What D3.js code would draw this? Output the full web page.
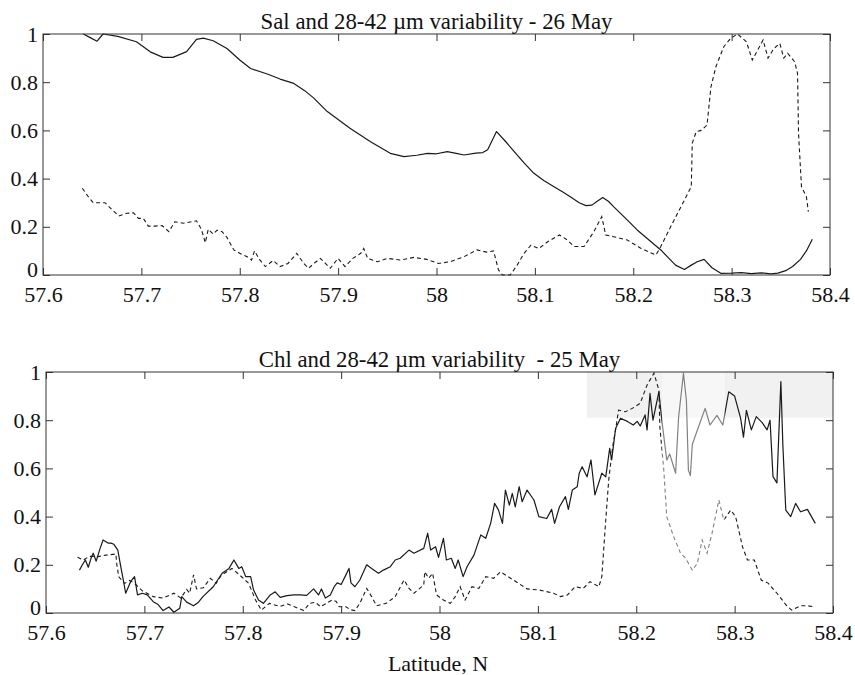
<!DOCTYPE html>
<html>
<head>
<meta charset="utf-8">
<script src="https://cdn.jsdelivr.net/npm/d3@7"></script>
<style>
  html, body { margin: 0; padding: 0; background: #fff; }
  svg { display: block; }
</style>
</head>
<body>
<svg id="chart" width="855" height="675"></svg>
<script>
// ---------------- data ----------------
const xTickValues = [57.6, 57.7, 57.8, 57.9, 58.0, 58.1, 58.2, 58.3, 58.4];
const xTickLabels = ["57.6", "57.7", "57.8", "57.9", "58", "58.1", "58.2", "58.3", "58.4"];
const yTickValues = [0, 0.2, 0.4, 0.6, 0.8, 1];
const yTickLabels = ["0", "0.2", "0.4", "0.6", "0.8", "1"];

const titleTop = "Sal and 28-42 \u00B5m variability - 26 May";
const titleBottom = "Chl and 28-42 \u00B5m variability  - 25 May";
const xAxisTitle = "Latitude, N";

// Top panel: salinity (solid), 28-42 um (dashed), 26 May
const salLat = [57.641,57.648,57.655,57.661,57.676,57.695,57.709,57.722,57.732,57.746,57.756,57.763,57.773,57.787,57.800,57.811,57.828,57.841,57.855,57.866,57.875,57.889,57.912,57.933,57.953,57.967,57.980,57.991,58.000,58.011,58.020,58.028,58.040,58.047,58.052,58.061,58.070,58.079,58.089,58.099,58.109,58.119,58.128,58.136,58.145,58.152,58.158,58.163,58.169,58.175,58.180,58.192,58.204,58.216,58.228,58.236,58.243,58.252,58.259,58.265,58.272,58.280,58.289,58.300,58.310,58.320,58.330,58.340,58.347,58.355,58.362,58.370,58.376,58.382];
const salVal = [1.0,0.985,0.97,1.0,0.99,0.968,0.926,0.903,0.903,0.927,0.978,0.983,0.972,0.94,0.892,0.857,0.834,0.813,0.795,0.765,0.735,0.678,0.609,0.553,0.505,0.491,0.497,0.505,0.503,0.512,0.505,0.498,0.506,0.508,0.52,0.595,0.555,0.512,0.465,0.422,0.392,0.367,0.345,0.325,0.30,0.288,0.29,0.305,0.322,0.305,0.284,0.236,0.187,0.145,0.104,0.07,0.041,0.023,0.041,0.055,0.065,0.03,0.007,0.008,0.01,0.006,0.009,0.005,0.008,0.018,0.035,0.065,0.10,0.148];

const size26Lat = [57.640,57.646,57.651,57.663,57.670,57.677,57.685,57.692,57.697,57.702,57.707,57.714,57.721,57.728,57.734,57.743,57.756,57.761,57.765,57.768,57.773,57.777,57.782,57.787,57.794,57.800,57.807,57.812,57.815,57.820,57.826,57.834,57.841,57.849,57.858,57.865,57.870,57.876,57.882,57.892,57.900,57.907,57.915,57.923,57.926,57.930,57.940,57.950,57.963,57.977,57.990,58.002,58.014,58.028,58.041,58.051,58.058,58.063,58.067,58.075,58.082,58.089,58.096,58.104,58.113,58.125,58.133,58.140,58.150,58.160,58.168,58.172,58.180,58.194,58.208,58.223,58.228,58.238,58.252,58.259,58.260,58.264,58.269,58.275,58.279,58.284,58.292,58.299,58.306,58.315,58.321,58.326,58.332,58.337,58.343,58.349,58.353,58.357,58.364,58.367,58.368,58.371,58.376,58.378];
const size26Val = [0.36,0.325,0.30,0.30,0.272,0.245,0.256,0.258,0.235,0.235,0.203,0.203,0.205,0.18,0.221,0.215,0.225,0.19,0.134,0.19,0.17,0.186,0.18,0.156,0.104,0.09,0.077,0.062,0.10,0.065,0.035,0.06,0.035,0.048,0.09,0.048,0.028,0.05,0.069,0.028,0.069,0.035,0.069,0.09,0.11,0.069,0.055,0.069,0.062,0.073,0.065,0.048,0.055,0.076,0.104,0.095,0.10,0.021,0.0,0.0,0.041,0.09,0.124,0.11,0.138,0.166,0.145,0.118,0.118,0.18,0.242,0.166,0.159,0.145,0.11,0.083,0.118,0.20,0.311,0.367,0.547,0.595,0.60,0.622,0.781,0.864,0.947,0.982,1.0,0.968,0.892,0.93,0.975,0.90,0.94,0.961,0.90,0.92,0.885,0.837,0.588,0.367,0.325,0.263];

// Bottom panel: chlorophyll (solid), 28-42 um (dashed), 25 May
const chlLat = [57.634,57.637,57.640,57.643,57.646,57.648,57.651,57.655,57.658,57.663,57.666,57.669,57.673,57.676,57.678,57.681,57.686,57.690,57.693,57.698,57.703,57.709,57.714,57.719,57.725,57.730,57.736,57.738,57.743,57.750,57.755,57.760,57.770,57.779,57.786,57.791,57.796,57.799,57.803,57.808,57.811,57.816,57.821,57.828,57.833,57.838,57.845,57.852,57.858,57.865,57.872,57.877,57.880,57.884,57.889,57.893,57.896,57.900,57.904,57.908,57.910,57.914,57.919,57.926,57.931,57.938,57.943,57.950,57.955,57.960,57.969,57.974,57.984,57.988,57.991,57.996,57.999,58.004,58.007,58.012,58.016,58.019,58.024,58.028,58.035,58.042,58.047,58.052,58.056,58.060,58.064,58.067,58.071,58.074,58.077,58.081,58.084,58.089,58.096,58.101,58.109,58.114,58.117,58.122,58.128,58.131,58.135,58.140,58.142,58.145,58.150,58.154,58.158,58.165,58.169,58.173,58.175,58.179,58.184,58.191,58.197,58.201,58.204,58.209,58.211,58.214,58.217,58.223,58.226,58.231,58.234,58.240,58.243,58.248,58.251,58.253,58.255,58.257,58.270,58.275,58.282,58.288,58.294,58.300,58.306,58.309,58.312,58.317,58.322,58.328,58.333,58.336,58.339,58.343,58.347,58.349,58.352,58.357,58.362,58.367,58.374,58.382];
const chlVal = [0.178,0.2,0.22,0.19,0.23,0.248,0.215,0.268,0.303,0.29,0.29,0.285,0.261,0.192,0.15,0.082,0.13,0.151,0.075,0.082,0.075,0.047,0.035,0.01,0.025,0.003,0.02,0.068,0.045,0.03,0.045,0.07,0.109,0.165,0.185,0.22,0.185,0.192,0.151,0.151,0.095,0.054,0.04,0.075,0.088,0.065,0.072,0.075,0.075,0.073,0.1,0.075,0.1,0.062,0.075,0.109,0.125,0.118,0.151,0.185,0.125,0.109,0.137,0.20,0.185,0.165,0.178,0.192,0.22,0.227,0.261,0.248,0.268,0.331,0.261,0.275,0.231,0.31,0.22,0.227,0.185,0.22,0.151,0.192,0.24,0.324,0.31,0.372,0.455,0.427,0.372,0.51,0.448,0.496,0.44,0.524,0.462,0.51,0.469,0.40,0.392,0.43,0.372,0.441,0.483,0.43,0.51,0.524,0.58,0.607,0.565,0.635,0.49,0.58,0.565,0.683,0.635,0.766,0.808,0.795,0.78,0.795,0.776,0.822,0.76,0.911,0.80,0.918,0.80,0.635,0.66,0.58,0.81,0.995,0.88,0.593,0.57,0.70,0.849,0.78,0.82,0.78,0.918,0.90,0.81,0.73,0.841,0.76,0.815,0.79,0.76,0.80,0.566,0.54,0.96,0.70,0.427,0.40,0.455,0.42,0.43,0.372];

const size25Lat = [57.632,57.638,57.644,57.653,57.661,57.671,57.672,57.674,57.680,57.685,57.690,57.698,57.709,57.719,57.730,57.737,57.743,57.746,57.750,57.753,57.760,57.767,57.773,57.778,57.789,57.797,57.806,57.813,57.819,57.827,57.838,57.845,57.852,57.862,57.868,57.874,57.879,57.885,57.891,57.895,57.898,57.905,57.909,57.914,57.919,57.926,57.931,57.936,57.946,57.955,57.964,57.969,57.974,57.984,57.985,57.989,57.993,57.997,58.004,58.011,58.016,58.021,58.026,58.033,58.040,58.047,58.055,58.062,58.075,58.089,58.102,58.116,58.123,58.130,58.138,58.146,58.153,58.162,58.165,58.169,58.172,58.176,58.179,58.182,58.189,58.196,58.204,58.211,58.218,58.223,58.224,58.228,58.231,58.238,58.245,58.250,58.257,58.262,58.267,58.272,58.277,58.284,58.289,58.296,58.301,58.308,58.313,58.320,58.327,58.334,58.343,58.353,58.358,58.367,58.374,58.381];
const size25Val = [0.231,0.22,0.235,0.234,0.24,0.245,0.2,0.15,0.123,0.135,0.123,0.092,0.068,0.062,0.082,0.062,0.098,0.082,0.158,0.1,0.105,0.144,0.123,0.156,0.185,0.157,0.123,0.054,0.012,0.04,0.027,0.038,0.027,0.01,0.04,0.045,0.026,0.04,0.054,0.048,0.026,0.026,0.014,0.01,0.04,0.102,0.068,0.03,0.04,0.068,0.137,0.102,0.082,0.116,0.171,0.144,0.165,0.075,0.054,0.04,0.068,0.109,0.054,0.109,0.102,0.151,0.144,0.171,0.137,0.1,0.095,0.082,0.068,0.075,0.109,0.102,0.13,0.109,0.151,0.386,0.552,0.69,0.76,0.842,0.835,0.849,0.87,0.946,0.995,0.925,0.773,0.593,0.40,0.317,0.248,0.228,0.178,0.205,0.303,0.248,0.33,0.469,0.386,0.427,0.40,0.275,0.22,0.22,0.137,0.124,0.082,0.03,0.012,0.03,0.03,0.026];

// ---------------- font selection ----------------
function fontAvailable(name) {
  const c = document.createElement("canvas").getContext("2d");
  const s = "57.6 Latitude, N variability";
  c.font = "40px monospace"; const w1 = c.measureText(s).width;
  c.font = `40px "${name}", monospace`; const w2 = c.measureText(s).width;
  c.font = "40px sans-serif"; const w3 = c.measureText(s).width;
  c.font = `40px "${name}", sans-serif`; const w4 = c.measureText(s).width;
  return w1 !== w2 || w3 !== w4;
}
const serifCandidates = ["Liberation Serif", "Tinos", "Times New Roman", "Nimbus Roman", "Times", "DejaVu Serif"];
const FONT_FAMILY = serifCandidates.find(fontAvailable) || "serif";
const FONT = FONT_FAMILY === "DejaVu Serif" ? 19 : 22;
const TITLE_FONT = FONT_FAMILY === "DejaVu Serif" ? 19.5 : 22.8;

// ---------------- drawing ----------------
const svg = d3.select("#chart");

function zip(a, b) { return a.map((v, i) => [v, b[i]]); }

function drawPanel(p) {
  const x = d3.scaleLinear().domain([57.6, 58.4]).range([p.left, p.right]);
  const y = d3.scaleLinear().domain([0, 1]).range([p.bottom, p.top]);
  const g = svg.append("g");

  // faint scan patch (background)
  if (p.patch) {
    g.append("rect")
      .attr("x", x(p.patch[0])).attr("y", y(p.patch[3]))
      .attr("width", x(p.patch[1]) - x(p.patch[0]))
      .attr("height", y(p.patch[2]) - y(p.patch[3]))
      .attr("fill", "#f1f1f1");
  }

  const line = d3.line().x(d => x(d[0])).y(d => y(d[1]));

  g.append("path").datum(zip(p.dashLat, p.dashVal))
    .attr("d", line).attr("fill", "none")
    .attr("stroke", "#1a1a1a").attr("stroke-width", 1.1)
    .attr("stroke-dasharray", "4,3");

  g.append("path").datum(zip(p.solidLat, p.solidVal))
    .attr("d", line).attr("fill", "none")
    .attr("stroke", "#1a1a1a").attr("stroke-width", 1.2)
    .attr("stroke-linejoin", "round");

  // faded area of the scan
  if (p.fade) {
    g.append("rect")
      .attr("x", x(p.fade[0])).attr("y", y(p.fade[3]))
      .attr("width", x(p.fade[1]) - x(p.fade[0]))
      .attr("height", y(p.fade[2]) - y(p.fade[3]))
      .attr("fill", "#fff").attr("opacity", 0.45);
  }

  const styleAxis = sel => {
    sel.attr("font-family", FONT_FAMILY).attr("font-size", FONT);
    sel.select(".domain").remove();
    sel.selectAll(".tick line").attr("stroke", "#333").attr("stroke-width", 1);
    sel.selectAll("text").style("font-family", `"${FONT_FAMILY}", serif`)
      .style("font-size", FONT + "px").attr("fill", "#111");
  };

  g.append("g").attr("transform", `translate(0,${p.bottom})`)
    .call(d3.axisBottom(x).tickValues(xTickValues)
      .tickFormat((d, i) => xTickLabels[i])
      .tickSizeInner(-7).tickSizeOuter(0).tickPadding(11))
    .call(styleAxis);
  g.append("g").attr("transform", `translate(0,${p.top})`)
    .call(d3.axisTop(x).tickValues(xTickValues).tickFormat("")
      .tickSizeInner(-7).tickSizeOuter(0))
    .call(styleAxis);
  const yAx = g.append("g").attr("transform", `translate(${p.left},0)`)
    .call(d3.axisLeft(y).tickValues(yTickValues)
      .tickFormat((d, i) => yTickLabels[i])
      .tickSizeInner(-7).tickSizeOuter(0).tickPadding(5))
    .call(styleAxis);
  // the zero label sits a little higher, clear of the first x label
  yAx.selectAll(".tick").filter(d => d === 0).select("text").attr("y", -6);
  g.append("g").attr("transform", `translate(${p.right},0)`)
    .call(d3.axisRight(y).tickValues(yTickValues).tickFormat("")
      .tickSizeInner(-7).tickSizeOuter(0))
    .call(styleAxis);

  // box
  g.append("rect")
    .attr("x", p.left).attr("y", p.top)
    .attr("width", p.right - p.left).attr("height", p.bottom - p.top)
    .attr("fill", "none").attr("stroke", "#333").attr("stroke-width", 1);

  // title
  g.append("text")
    .attr("x", (p.left + p.right) / 2).attr("y", p.top - 5)
    .attr("text-anchor", "middle")
    .style("font-family", `"${FONT_FAMILY}", serif`).style("font-size", TITLE_FONT + "px")
    .style("white-space", "pre").attr("fill", "#111")
    .text(p.title);
}

drawPanel({
  left: 43, right: 830, top: 34, bottom: 275,
  title: titleTop,
  solidLat: salLat, solidVal: salVal,
  dashLat: size26Lat, dashVal: size26Val
});

drawPanel({
  left: 46, right: 833, top: 372, bottom: 613,
  title: titleBottom,
  solidLat: chlLat, solidVal: chlVal,
  dashLat: size25Lat, dashVal: size25Val,
  patch: [58.15, 58.4, 0.81, 1.0],
  fade: [58.226, 58.29, 0.15, 1.0]
});

svg.append("text")
  .attr("x", 438).attr("y", 671)
  .attr("text-anchor", "middle")
  .style("font-family", `"${FONT_FAMILY}", serif`).style("font-size", FONT + "px")
  .attr("fill", "#111")
  .text(xAxisTitle);
</script>
</body>
</html>
